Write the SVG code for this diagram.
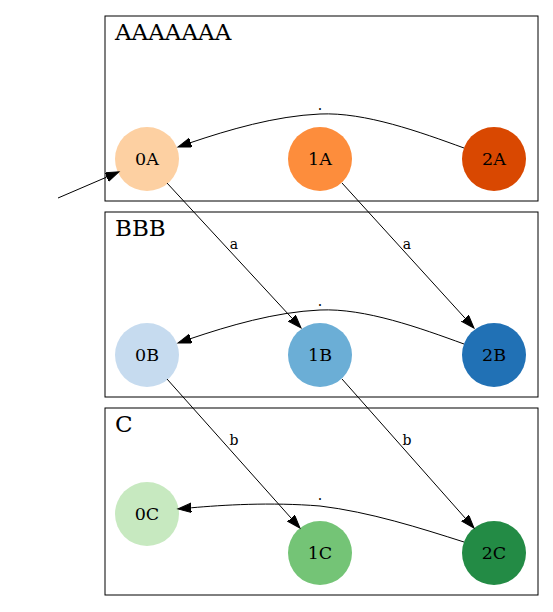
<svg xmlns="http://www.w3.org/2000/svg" width="553" height="612" viewBox="0 0 553 612">
<style>
.cl{fill:none;stroke:#000;stroke-width:1}
.ct{font-family:"DejaVu Serif",serif;font-size:23px;fill:#000}
.nt{font-family:"DejaVu Serif",serif;font-size:17.5px;fill:#000;text-anchor:middle;dominant-baseline:central}
.e{fill:none;stroke:#000;stroke-width:1;marker-end:url(#ah)}
.el{font-family:"DejaVu Serif",serif;font-size:14px;fill:#000;text-anchor:middle}
</style>
<defs>
<marker id="ah" markerUnits="userSpaceOnUse" markerWidth="15" markerHeight="11" refX="0" refY="4.67" orient="auto" viewBox="0 0 15 11">
<path d="M0,0 L13.3,4.67 L0,9.33 z" fill="#000" stroke="#000" stroke-width="1"/>
</marker>
</defs>
<rect width="553" height="612" fill="#fff"/>
<g id="clusterA"><rect class="cl" x="105" y="16" width="433" height="185"/><text class="ct" x="115" y="40">AAAAAAA</text></g>
<g id="clusterB"><rect class="cl" x="105" y="212" width="433" height="185"/><text class="ct" x="115" y="236">BBB</text></g>
<g id="clusterC"><rect class="cl" x="105" y="408" width="433" height="187"/><text class="ct" x="115" y="432">C</text></g>
<g id="n0A"><circle cx="147" cy="159" r="32" fill="#fdd0a2"/><text class="nt" x="147" y="159">0A</text></g>
<g id="n1A"><circle cx="320" cy="159" r="32" fill="#fd8d3c"/><text class="nt" x="320" y="159">1A</text></g>
<g id="n2A"><circle cx="494" cy="159" r="32" fill="#d94801"/><text class="nt" x="494" y="159">2A</text></g>
<g id="n0B"><circle cx="147" cy="355" r="32" fill="#c6dbef"/><text class="nt" x="147" y="355">0B</text></g>
<g id="n1B"><circle cx="320" cy="355" r="32" fill="#6baed6"/><text class="nt" x="320" y="355">1B</text></g>
<g id="n2B"><circle cx="494" cy="355" r="32" fill="#2171b5"/><text class="nt" x="494" y="355">2B</text></g>
<g id="n0C"><circle cx="147" cy="514" r="32" fill="#c7e9c0"/><text class="nt" x="147" y="514">0C</text></g>
<g id="n1C"><circle cx="320" cy="553" r="32" fill="#74c476"/><text class="nt" x="320" y="553">1C</text></g>
<g id="n2C"><circle cx="494" cy="553" r="32" fill="#238b45"/><text class="nt" x="494" y="553">2C</text></g>
<g id="edges">
<path class="e" d="M58,198 L106.7,177.1"/>
<path class="e" d="M464,148 C420,132 365,112 320,114 C275,116 228,130 190.6,142.65"/>
<text class="el" x="320" y="110">.</text>
<path class="e" d="M167,183 L292,318.2"/>
<text class="el" x="234" y="249">a</text>
<path class="e" d="M342,183 L465.05,318.2"/>
<text class="el" x="407" y="249">a</text>
<path class="e" d="M464,344 C420,328 365,308 320,310 C275,312 228,326 190.6,338.65"/>
<text class="el" x="320" y="306">.</text>
<path class="e" d="M167,379 L291.1,518.1"/>
<text class="el" x="234" y="445">b</text>
<path class="e" d="M342,379 L465.2,518.1"/>
<text class="el" x="407" y="445">b</text>
<path class="e" d="M464,542 C420,528 370,512 320,506 C270,502 223,505 191.2,507.8"/>
<text class="el" x="320" y="500">.</text>
</g>
</svg>
